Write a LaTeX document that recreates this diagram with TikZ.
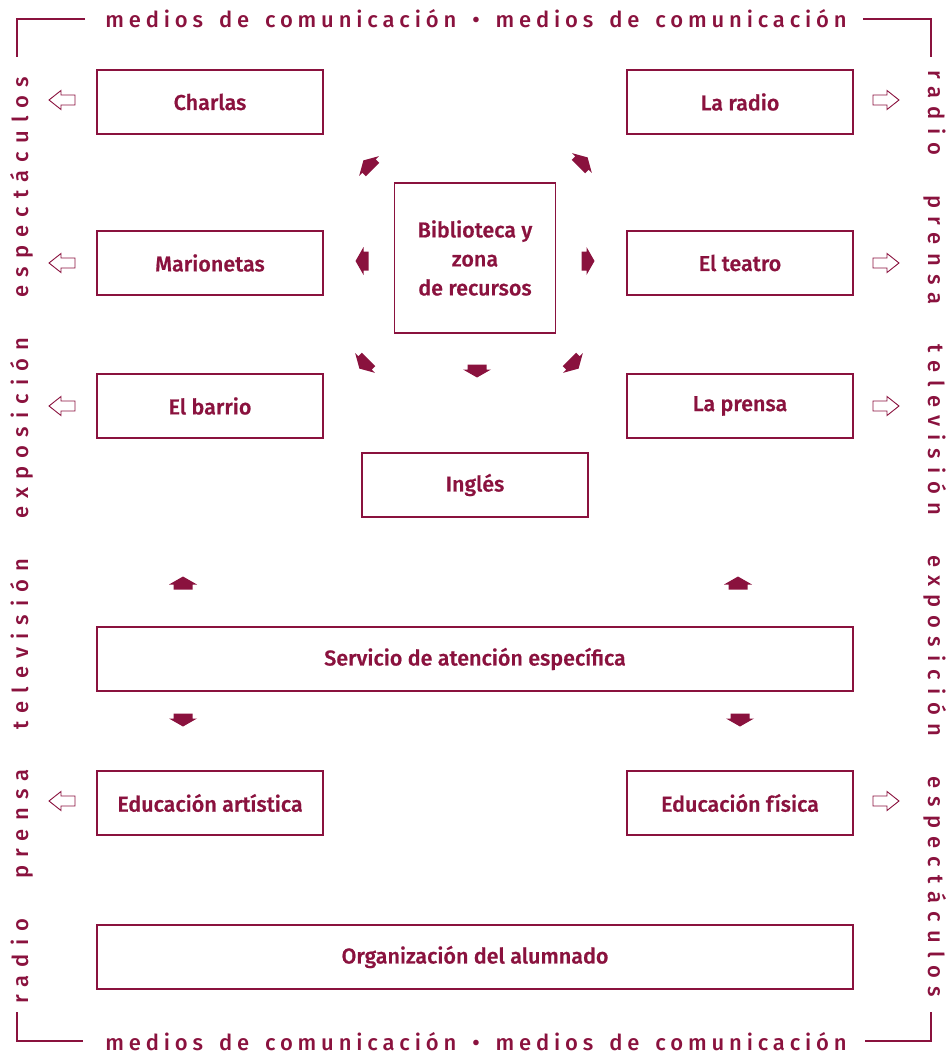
\documentclass[tikz,border=0pt]{standalone}
\usepackage{fontspec}
\setmainfont{Fira Sans}
\newfontfamily\labfont{Fira Sans Medium}[FakeBold=0.8]
\newfontfamily\hsidefont{Fira Sans Medium}[LetterSpace=22]
\newfontfamily\vsidefont{Fira Sans Medium}[LetterSpace=37]
\newcommand\hgap{\hspace{16pt}}
\newcommand\vgap{\hspace{40pt}}
\definecolor{acc}{RGB}{138,18,62}
\begin{document}
\begin{tikzpicture}[x=1pt,y=-1pt,
  box/.style={draw=acc, line width=1.2pt, text=acc, font=\labfont\fontsize{21.5}{29}\selectfont, inner sep=0pt, align=center},
  sbox/.style={box, minimum width=226pt, minimum height=64pt},
  wbox/.style={box, minimum width=756pt, minimum height=64pt},
  frame/.style={draw=acc, line width=1.2pt},
  htext/.style={text=acc, font=\hsidefont\fontsize{22}{24}\selectfont, inner sep=0pt, anchor=base},
  vtext/.style={text=acc, font=\vsidefont\fontsize{22}{24}\selectfont, inner sep=0pt, anchor=base},
  blk/.pic={\fill[acc] (-9.5,6.5) -- (9.5,6.5) -- (9.5,1.5) -- (14,1.5) -- (0,-6.5) -- (-14,1.5) -- (-9.5,1.5) -- cycle;},
  openarr/.pic={\draw[acc, line width=0.9pt, line join=miter] (-13,0) -- (-1,-9.5) -- (-1,-5) -- (13,-5) -- (13,5) -- (-1,5) -- (-1,9.5) -- cycle;}
]
\useasboundingbox (0,0) rectangle (948,1054);

% boxes
\node[sbox] (charlas) at (210,102) {Charlas};
\node[sbox] (radio) at (740,102) {La radio};
\node[box, minimum width=161pt, minimum height=150pt] (bib) at (475,258) {Biblioteca y\\zona\\de recursos};
\node[sbox] (mario) at (210,263) {Marionetas};
\node[sbox] (teatro) at (740,263) {El teatro};
\node[sbox] (barrio) at (210,406) {El barrio};
\node[sbox] (prensa) at (740,406) {La prensa};
\node[sbox] (ingles) at (475,485) {Inglés};
\node[wbox] (servicio) at (475,659) {Servicio de atención específica};
\node[sbox] (artis) at (210,803) {Educación artística};
\node[sbox] (fisica) at (740,803) {Educación física};
\node[wbox] (organ) at (475,957) {Organización del alumnado};

% frame texts
\node[htext] (ttop) at (476,28) {medios\hgap de\hgap comunicación\hgap •\hgap medios\hgap de\hgap comunicación};
\node[htext] (tbot) at (476,1050) {medios\hgap de\hgap comunicación\hgap •\hgap medios\hgap de\hgap comunicación};
\node[vtext, rotate=90] (tleft) at (28,540) {radio\vgap prensa\vgap televisión\vgap exposición\vgap espectáculos};
\node[vtext, rotate=-90] (tright) at (928,534) {radio\vgap prensa\vgap televisión\vgap exposición\vgap espectáculos};

% frame corners
\coordinate (c1) at (17,19); \coordinate (c2) at (931,19);
\coordinate (c3) at (17,1041); \coordinate (c4) at (931,1041);
\draw[frame] (85,19) -- (c1) -- (17,57);
\draw[frame] (863,19) -- (c2) -- (931,57);
\draw[frame] (17,1012) -- (c3) -- (83,1041);
\draw[frame] (865,1041) -- (c4) -- (931,1012);

% block arrows around biblioteca
\pic[rotate=45] at (368,165) {blk};
\pic[rotate=-45] at (583,162) {blk};
\pic[rotate=90] at (362,261) {blk};
\pic[rotate=-90] at (588,261) {blk};
\pic[rotate=135] at (364,364) {blk};
\pic[rotate=180] at (477,371) {blk};
\pic[rotate=-135] at (574,364) {blk};

% up/down arrows around servicio
\pic at (183,583) {blk};
\pic at (738,583) {blk};
\pic[rotate=180] at (183,720) {blk};
\pic[rotate=180] at (740,720) {blk};

% open side arrows
\pic at (62,100) {openarr};
\pic at (62,263) {openarr};
\pic at (62,406) {openarr};
\pic at (62,801) {openarr};
\pic[rotate=180] at (886,100) {openarr};
\pic[rotate=180] at (886,263) {openarr};
\pic[rotate=180] at (886,406) {openarr};
\pic[rotate=180] at (886,801) {openarr};
\end{tikzpicture}
\end{document}
